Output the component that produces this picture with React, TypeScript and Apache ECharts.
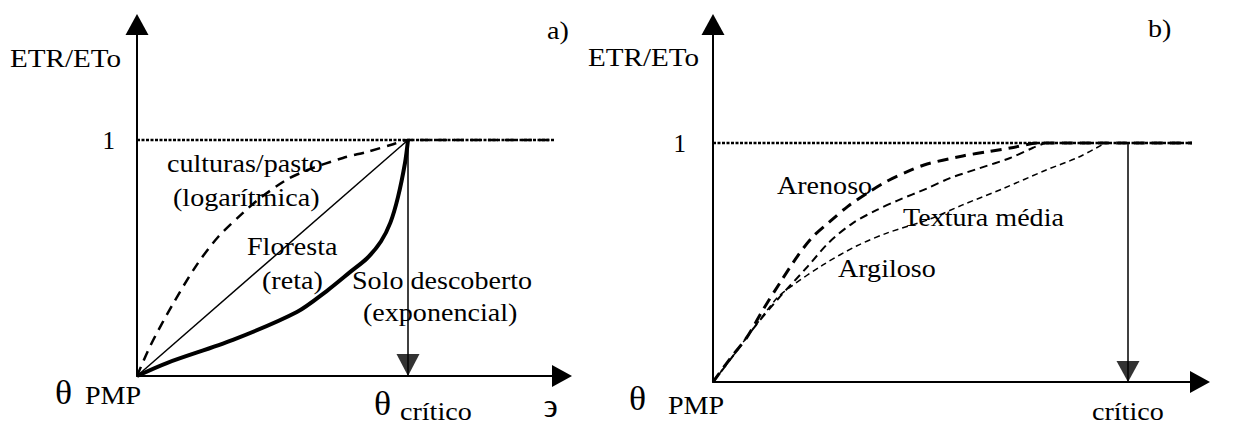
import React, { useEffect, useRef } from "react";
import * as echarts from "echarts";

// ---- data (relative water content vs ETR/ETo; x = 1 is θ crítico) ----
const potentialLeftX = [0, 1.753];
const potentialLeftY = [1, 1];

const logX = [0, 0.05, 0.13, 0.22, 0.3, 0.39, 0.45, 0.55, 0.63, 0.76, 0.85, 0.945, 1.0, 1.2, 1.4, 1.6, 1.708];
const logY = [0, 0.13, 0.3, 0.47, 0.59, 0.69, 0.75, 0.83, 0.873, 0.924, 0.95, 0.982, 1.0, 1.0, 1.0, 1.0, 1.0];

const forestX = [0, 1];
const forestY = [0, 1];

const soloX = [0, 0.11, 0.354, 0.59, 0.7, 0.786, 0.85, 0.9, 0.935, 0.963, 0.989, 1.0];
const soloY = [0, 0.055, 0.153, 0.271, 0.36, 0.44, 0.5, 0.57, 0.65, 0.758, 0.903, 1.0];

const potentialRightX = [0, 1.28];
const potentialRightY = [1, 1];

const arenosoX = [0, 0.04, 0.082, 0.12, 0.161, 0.205, 0.239, 0.282, 0.325, 0.378, 0.419, 0.475, 0.516, 0.602, 0.667, 0.716, 0.788, 1.0, 1.28];
const arenosoY = [0, 0.095, 0.188, 0.301, 0.414, 0.53, 0.605, 0.672, 0.735, 0.797, 0.84, 0.885, 0.912, 0.946, 0.965, 0.979, 1.0, 1.0, 1.0];

const texturaX = [0, 0.04, 0.1, 0.161, 0.227, 0.28, 0.337, 0.395, 0.443, 0.516, 0.571, 0.643, 0.716, 0.771, 0.8];
const texturaY = [0, 0.09, 0.23, 0.356, 0.481, 0.585, 0.665, 0.72, 0.758, 0.81, 0.853, 0.895, 0.937, 0.98, 1.0];

const argilosoX = [0, 0.04, 0.1, 0.154, 0.186, 0.265, 0.347, 0.419, 0.52, 0.6, 0.7, 0.8, 0.88, 0.945];
const argilosoY = [0, 0.09, 0.23, 0.351, 0.397, 0.49, 0.57, 0.623, 0.68, 0.74, 0.81, 0.885, 0.94, 1.0];

const criticalX = [1, 1];
const criticalY = [1, 0];

const yTickLabels = ["1"];

const FONT = "Liberation Serif";

const zip = (xs: number[], ys: number[]) => xs.map((x, i) => [x, ys[i]]);

function lineSeries(
  name: string,
  xs: number[],
  ys: number[],
  idx: number,
  width: number,
  type: any,
  smooth: boolean | number = false
) {
  return {
    name,
    type: "line",
    xAxisIndex: idx,
    yAxisIndex: idx,
    data: zip(xs, ys),
    symbol: "none",
    smooth,
    clip: false,
    lineStyle: { color: "#000", width, type, cap: "butt" },
    z: 3,
  };
}

function txt(text: string, x: number, y: number, size = 26, sx = 1.08) {
  return {
    type: "text",
    x,
    y,
    scaleX: sx,
    silent: true,
    style: {
      text,
      fill: "#000",
      fontSize: size,
      fontFamily: FONT,
      align: "left",
      verticalAlign: "middle",
    },
  };
}

export default function App() {
  const ref = useRef<HTMLDivElement>(null);

  useEffect(() => {
    if (!ref.current) return;
    const chart = echarts.init(ref.current, undefined, { renderer: "svg" });

    const axisLineX = {
      show: true,
      symbol: ["none", "triangle"],
      symbolSize: [22, 20],
      symbolOffset: [0, 10],
      lineStyle: { color: "#000", width: 2 },
    };
    const axisLineY = {
      show: true,
      symbol: ["none", "triangle"],
      symbolSize: [23, 21],
      symbolOffset: [0, 10.5],
      lineStyle: { color: "#000", width: 2 },
    };

    const makeX = (gridIndex: number, max: number) => ({
      type: "value",
      gridIndex,
      min: 0,
      max,
      axisLine: axisLineX,
      axisTick: { show: false },
      axisLabel: { show: false },
      splitLine: { show: false },
    });
    const makeY = (gridIndex: number, max: number, margin: number) => ({
      type: "value",
      gridIndex,
      min: 0,
      max,
      interval: 1,
      axisLine: axisLineY,
      axisTick: { show: false },
      splitLine: { show: false },
      axisLabel: {
        show: true,
        margin,
        color: "#000",
        fontSize: 25,
        fontFamily: FONT,
        formatter: (v: number) => (v === 1 ? yTickLabels[0] : ""),
      },
    });

    const arrowSeries = (idx: number, yPos: number, size: number[]) => ({
      type: "scatter",
      xAxisIndex: idx,
      yAxisIndex: idx,
      data: [[criticalX[1], yPos]],
      symbol: "triangle",
      symbolRotate: 180,
      symbolSize: size,
      itemStyle: { color: "#000" },
      clip: false,
      z: 4,
    });

    chart.setOption({
      animation: false,
      backgroundColor: "#fff",
      textStyle: { fontFamily: FONT },
      grid: [
        { left: 137, top: 35, width: 415, height: 341 },
        { left: 713, top: 35, width: 477, height: 347 },
      ],
      xAxis: [makeX(0, 415 / 271), makeX(1, 477 / 415)],
      yAxis: [makeY(0, 341 / 236, 22), makeY(1, 347 / 239, 27)],
      series: [
        lineSeries("ETR = ETo (a)", potentialLeftX, potentialLeftY, 0, 2.5, [3, 1.5]),
        lineSeries("culturas/pasto (logarítmica)", logX, logY, 0, 2.5, [10, 7], 0.3),
        lineSeries("Floresta (reta)", forestX, forestY, 0, 1.5, "solid"),
        lineSeries("Solo descoberto (exponencial)", soloX, soloY, 0, 4, "solid", 0.3),
        lineSeries("θ crítico (a)", criticalX, criticalY, 0, 1.5, "solid"),
        arrowSeries(0, 11 / 236, [23, 22]),
        lineSeries("ETR = ETo (b)", potentialRightX, potentialRightY, 1, 2.5, [3, 1.5]),
        lineSeries("Arenoso", arenosoX, arenosoY, 1, 3, [11, 7], 0.3),
        lineSeries("Textura média", texturaX, texturaY, 1, 2, [8, 5], 0.3),
        lineSeries("Argiloso", argilosoX, argilosoY, 1, 1.5, [6, 4], 0.3),
        lineSeries("θ crítico (b)", criticalX, criticalY, 1, 1.5, "solid"),
        arrowSeries(1, 10.5 / 239, [23, 21]),
      ],
      graphic: [
        // panel a
        txt("ETR/ETo", 10, 58, 26, 1.12),
        txt("a)", 547, 30),
        txt("culturas/pasto", 167, 163),
        txt("(logarítmica)", 173, 197),
        txt("Floresta", 247, 246),
        txt("(reta)", 262, 280),
        txt("Solo descoberto", 352, 280),
        txt("(exponencial)", 363, 312),
        txt("θ", 55, 392, 33),
        txt("PMP", 85, 395),
        txt("θ", 374, 403, 33),
        txt("crítico", 400, 411),
        txt("϶", 544, 405, 34, 1),
        // panel b
        txt("ETR/ETo", 588, 57, 26, 1.12),
        txt("b)", 1148, 28),
        txt("Arenoso", 777, 185),
        txt("Textura média", 903, 217),
        txt("Argiloso", 838, 268),
        txt("θ", 629, 398, 33),
        txt("PMP", 668, 405),
        txt("crítico", 1092, 411),
      ],
    });

    return () => chart.dispose();
  }, []);

  return (
    <div
      ref={ref}
      style={{ position: "fixed", left: 0, top: 0, width: 1244, height: 426, background: "#fff" }}
    />
  );
}
